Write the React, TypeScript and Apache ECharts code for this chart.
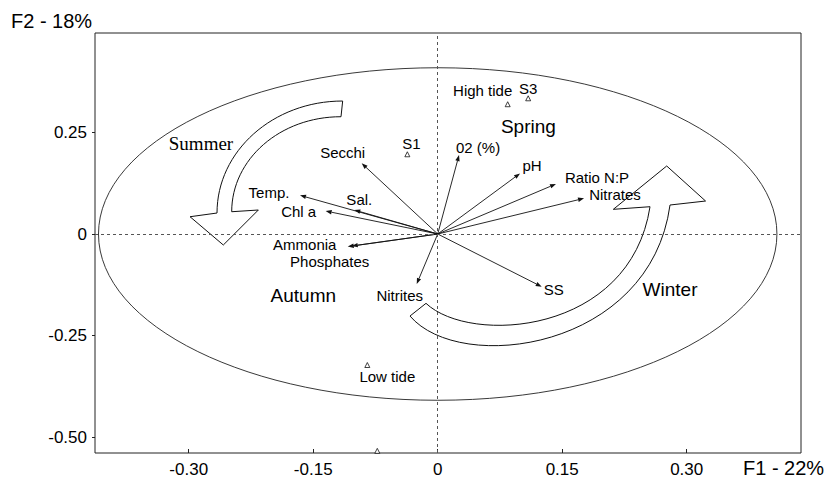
import React, { useEffect, useRef } from 'react';
import * as echarts from 'echarts';

// ---- Axes ----
const X_TICKS = [-0.3, -0.15, 0, 0.15, 0.3];
const Y_TICKS = [-0.5, -0.25, 0, 0.25];
const X_MIN = -0.4129;
const X_MAX = 0.4377;
const Y_MIN = -0.5383;
const Y_MAX = 0.4941;
const X_AXIS_TITLE = 'F1 - 22%';
const Y_AXIS_TITLE = 'F2 - 18%';

// ---- Variables (correlation vectors) ----
const VAR_NAMES = ['Secchi', 'Temp.', 'Sal.', 'Chl a', 'Ammonia', 'Phosphates', 'Nitrites', '02 (%)', 'pH', 'Ratio N:P', 'Nitrates', 'SS'];
const VAR_F1 = [-0.0916, -0.1659, -0.1005, -0.1350, -0.1084, -0.1036, -0.0253, 0.0257, 0.0992, 0.1425, 0.1763, 0.1253];
const VAR_F2 = [0.1738, 0.0950, 0.0590, 0.0565, -0.0310, -0.0295, -0.1230, 0.1940, 0.1490, 0.1230, 0.0877, -0.1295];

// ---- Sites / observations ----
const SITE_NAMES = ['S1', 'High tide', 'S3', 'Low tide', ''];
const SITE_F1 = [-0.0366, 0.0843, 0.1090, -0.0848, -0.0728];
const SITE_F2 = [0.1960, 0.3190, 0.3336, -0.3220, -0.5330];

// ---- Seasons ----
const SEASON_NAMES = ['Spring', 'Summer', 'Autumn', 'Winter'];
const SEASON_F1 = [0.1092, -0.2852, -0.1619, 0.2799];
const SEASON_F2 = [0.2638, 0.2230, -0.1500, -0.1360];

// ---- Correlation circle ----
const CIRCLE_RADIUS = 0.4087;

// ---- Decorative seasonal arrows (outline in factor-plane units) ----
const SUMMER_ARROW: any[] = [
  ['M', [-0.1145, 0.3269]],
  ['C', [-0.1984, 0.3269], [-0.2659, 0.2038], [-0.2659, 0.0516]],
  ['L', [-0.2984, 0.0425]],
  ['L', [-0.2583, -0.0270]],
  ['L', [-0.2161, 0.0590]],
  ['L', [-0.2482, 0.0548]],
  ['C', [-0.2482, 0.1839], [-0.1898, 0.2884], [-0.1165, 0.2883]],
];
const WINTER_ARROW: any[] = [
  ['M', [-0.0334, -0.2016]],
  ['C', [0.0269, -0.3466], [0.2560, -0.2852], [0.2799, 0.0713]],
  ['L', [0.3227, 0.0811]],
  ['L', [0.2759, 0.1672]],
  ['L', [0.2116, 0.0607]],
  ['L', [0.2558, 0.0671]],
  ['C', [0.2317, -0.2483], [0.0389, -0.2729], [-0.0141, -0.1704]],
];

// ---- Styling (pixel offsets of labels) ----
const VAR_LABEL_OFFSETS = [[-19, -11], [-31, -3], [5, -11], [-27, 0], [-43, -2], [-22, 15], [-17, 11], [19, -8], [12, -8], [41, -6], [31, -4], [12, 3]];
const SITE_LABEL_OFFSETS = [[4, -11], [-25, -14], [0, -10], [20, 11], [0, 0]];

const SANS = 'Liberation Sans, Arial, Helvetica, sans-serif';
const SERIF = 'Liberation Serif, Times New Roman, serif';
const INK = '#111';

export default function App() {
  const ref = useRef<HTMLDivElement>(null);

  useEffect(() => {
    if (!ref.current) return;
    const chart = echarts.init(ref.current, undefined, { renderer: 'svg' });

    const fmt = (v: number) => (v === 0 ? '0' : v.toFixed(2));

    const arrowPath = (cmds: any[], api: any) =>
      cmds
        .map((c) =>
          c[0] +
          ' ' +
          c
            .slice(1)
            .map((pt: number[]) => {
              const q = api.coord(pt);
              return q[0].toFixed(2) + ' ' + q[1].toFixed(2);
            })
            .join(' ')
        )
        .join(' ') + ' Z';

    const option: any = {
      animation: false,
      grid: {
        left: 95,
        top: 33,
        width: 706,
        height: 420,
        show: true,
        borderColor: '#222',
        borderWidth: 1,
        backgroundColor: 'transparent',
      },
      xAxis: {
        type: 'value',
        min: X_MIN,
        max: X_MAX,
        axisLine: { show: false, onZero: false },
        splitLine: { show: false },
        axisTick: { show: true, inside: true, length: 4, customValues: X_TICKS, lineStyle: { color: '#222' } },
        axisLabel: { customValues: X_TICKS, formatter: fmt, fontSize: 17, color: '#000', fontFamily: SANS, margin: 8 },
      },
      yAxis: {
        type: 'value',
        min: Y_MIN,
        max: Y_MAX,
        axisLine: { show: false, onZero: false },
        splitLine: { show: false },
        axisTick: { show: true, inside: false, length: 3, customValues: Y_TICKS, lineStyle: { color: '#222' } },
        axisLabel: { customValues: Y_TICKS, formatter: fmt, fontSize: 17, color: '#000', fontFamily: SANS, margin: 8 },
      },
      graphic: [
        { type: 'text', x: 11, y: 21, style: { text: Y_AXIS_TITLE, fontSize: 20, fontFamily: SANS, fill: '#000', verticalAlign: 'middle' } },
        { type: 'text', x: 743, y: 468, style: { text: X_AXIS_TITLE, fontSize: 20, fontFamily: SANS, fill: '#000', verticalAlign: 'middle' } },
      ],
      series: [
        {
          type: 'custom',
          z: 1,
          silent: true,
          data: [[0, 0]],
          renderItem: (_p: any, api: any) => {
            const c = api.coord([0, 0]);
            const s = api.size([CIRCLE_RADIUS, CIRCLE_RADIUS]);
            return {
              type: 'ellipse',
              shape: { cx: c[0], cy: c[1], rx: s[0], ry: s[1] },
              style: { fill: 'none', stroke: '#222', lineWidth: 0.9 },
            };
          },
          markLine: {
            silent: true,
            symbol: ['none', 'none'],
            label: { show: false },
            lineStyle: { type: [3, 3], color: '#555', width: 1 },
            data: [{ xAxis: 0 }, { yAxis: 0 }],
          },
        },
        {
          type: 'custom',
          z: 3,
          silent: true,
          data: [[0, 0], [0, 0]],
          renderItem: (p: any, api: any) => ({
            type: 'path',
            shape: { pathData: arrowPath(p.dataIndex === 0 ? SUMMER_ARROW : WINTER_ARROW, api) },
            style: { fill: '#fff', stroke: INK, lineWidth: 1 },
          }),
        },
        {
          type: 'custom',
          z: 4,
          silent: true,
          data: VAR_F1.map((x, i) => [x, VAR_F2[i]]),
          renderItem: (p: any, api: any) => {
            const i = p.dataIndex;
            const o = api.coord([0, 0]);
            const t = api.coord([api.value(0), api.value(1)]);
            const dx = t[0] - o[0];
            const dy = t[1] - o[1];
            const len = Math.hypot(dx, dy) || 1;
            const ux = dx / len;
            const uy = dy / len;
            const hl = 6;
            const hw = 2.2;
            const bx = t[0] - ux * hl;
            const by = t[1] - uy * hl;
            const off = VAR_LABEL_OFFSETS[i];
            return {
              type: 'group',
              children: [
                { type: 'line', shape: { x1: o[0], y1: o[1], x2: bx, y2: by }, style: { stroke: INK, lineWidth: 0.9 } },
                {
                  type: 'polygon',
                  shape: { points: [[t[0], t[1]], [bx - uy * hw, by + ux * hw], [bx + uy * hw, by - ux * hw]] },
                  style: { fill: INK },
                },
                {
                  type: 'text',
                  x: t[0] + off[0],
                  y: t[1] + off[1],
                  style: { text: VAR_NAMES[i], fontSize: 15, fontWeight: 'normal', fontFamily: SANS, fill: '#000', align: 'center', verticalAlign: 'middle' },
                },
              ],
            };
          },
        },
        {
          type: 'scatter',
          z: 5,
          silent: true,
          symbol: 'triangle',
          symbolSize: 5,
          itemStyle: { color: '#fff', borderColor: INK, borderWidth: 0.8, opacity: 1 },
          data: SITE_F1.map((x, i) => ({
            value: [x, SITE_F2[i]],
            name: SITE_NAMES[i],
            label: { offset: SITE_LABEL_OFFSETS[i] },
          })),
          label: {
            show: true,
            position: 'inside',
            formatter: (d: any) => d.name,
            fontSize: 15,
            fontFamily: SANS,
            color: '#000',
            opacity: 1,
          },
        },
        {
          type: 'scatter',
          z: 5,
          silent: true,
          symbolSize: 0,
          itemStyle: { opacity: 1 },
          data: SEASON_F1.map((x, i) => ({
            value: [x, SEASON_F2[i]],
            name: SEASON_NAMES[i],
            label: SEASON_NAMES[i] === 'Summer' ? { fontFamily: SERIF, fontSize: 19 } : {},
          })),
          label: {
            show: true,
            position: 'inside',
            formatter: (d: any) => d.name,
            fontSize: 19,
            fontFamily: SANS,
            color: '#000',
            opacity: 1,
          },
        },
      ],
    };

    chart.setOption(option);
    return () => chart.dispose();
  }, []);

  return <div ref={ref} style={{ position: 'fixed', left: 0, top: 0, width: 831, height: 479, background: '#fff' }} />;
}
